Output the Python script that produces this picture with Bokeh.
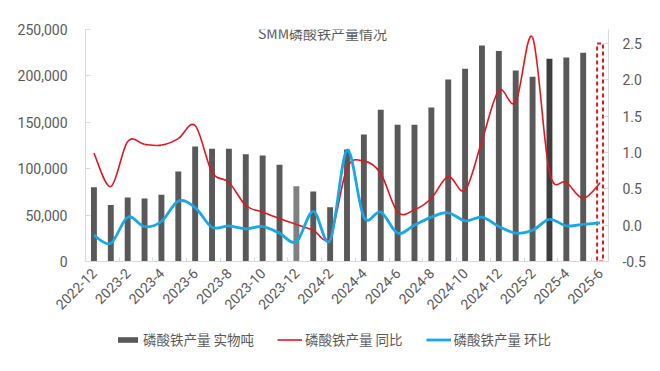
import math
from bokeh.plotting import figure
from bokeh.layouts import column
from bokeh.models import (Range1d, LinearAxis, FixedTicker, NumeralTickFormatter,
                          Legend, LegendItem, Label, ColumnDataSource)
from bokeh.embed import file_html
from bokeh.resources import INLINE

# ---------------- data ----------------
months = ["2022-12",
          "2023-1", "2023-2", "2023-3", "2023-4", "2023-5", "2023-6",
          "2023-7", "2023-8", "2023-9", "2023-10", "2023-11", "2023-12",
          "2024-1", "2024-2", "2024-3", "2024-4", "2024-5", "2024-6",
          "2024-7", "2024-8", "2024-9", "2024-10", "2024-11", "2024-12",
          "2025-1", "2025-2", "2025-3", "2025-4", "2025-5", "2025-6"]

production = [80000, 61000, 69000, 68000, 72000, 97000, 124000,
              121500, 121500, 115700, 114300, 104200, 81200,
              75500, 58500, 120700, 136900, 163500, 147400,
              147400, 166000, 196200, 207700, 232800, 226700,
              205900, 199100, 218500, 219900, 225000, 235000]

yoy = [0.99, 0.53, 1.15, 1.11, 1.10, 1.19, 1.37,
       0.73, 0.59, 0.27, 0.18, 0.09, 0.01,
       -0.07, -0.16, 0.78, 0.88, 0.71, 0.18,
       0.21, 0.37, 0.67, 0.48, 1.16, 1.85,
       1.69, 2.58, 0.73, 0.59, 0.37, 0.58]

mom = [-0.14, -0.25, 0.11, -0.02, 0.05, 0.33, 0.24,
       -0.03, -0.01, -0.05, -0.02, -0.11, -0.23,
       0.19, -0.21, 1.03, 0.11, 0.18, -0.11,
       0.00, 0.11, 0.17, 0.06, 0.11, -0.02,
       -0.11, -0.07, 0.08, -0.01, 0.01, 0.03]

left_ticks = [0, 50000, 100000, 150000, 200000, 250000]
right_ticks = [-0.5, 0.0, 0.5, 1.0, 1.5, 2.0, 2.5]

title_text = "SMM磷酸铁产量情况"
label_bar = "磷酸铁产量 实物吨"
label_yoy = "磷酸铁产量 同比"
label_mom = "磷酸铁产量 环比"

# ---------------- styles ----------------
GRAY = "#595959"
AXIS = "#d9d9d9"
RED = "#e3151d"
BLUE = "#18a8e6"
CJK = "Noto Sans CJK SC"
NUM = "Roboto"
NAN = float("nan")

n = len(months)
xs = list(range(n))

bar_colors = [GRAY] * n
bar_colors[months.index("2023-12")] = "#808080"
bar_colors[months.index("2025-3")] = "#3d3d3d"

p = figure(frame_width=523, frame_height=232,
           min_border_left=85, min_border_right=44, min_border_top=29,
           min_border_bottom=59,
           x_range=Range1d(-0.5, n - 0.5), y_range=Range1d(0, 250000),
           output_backend="svg", toolbar_location=None,
           background_fill_color="white", border_fill_color="white")
p.outline_line_color = None
p.xgrid.visible = False
p.ygrid.visible = False
p.extra_y_ranges = {"right": Range1d(-0.5, 2.69)}

# bars (all but the last, forecast bar)
solid = ColumnDataSource(dict(x=xs[:-1], top=production[:-1], color=bar_colors[:-1]))
p.vbar(x="x", top="top", width=0.35, source=solid,
       fill_color="color", line_color=None)
# last month drawn as dashed outline
last = ColumnDataSource(dict(x=xs[-1:], top=production[-1:]))
p.vbar(x="x", top="top", width=0.35, source=last, fill_color=None,
       line_color=RED, line_dash="4 3", line_width=2)


def bezier_source(xv, yv):
    m = len(xv)
    d = dict(x0=[], y0=[], x1=[], y1=[], cx0=[], cy0=[], cx1=[], cy1=[])
    for i in range(m - 1):
        a = max(i - 1, 0)
        b = min(i + 2, m - 1)
        d["x0"].append(xv[i]); d["y0"].append(yv[i])
        d["x1"].append(xv[i + 1]); d["y1"].append(yv[i + 1])
        d["cx0"].append(xv[i] + (xv[i + 1] - xv[a]) / 6)
        d["cy0"].append(yv[i] + (yv[i + 1] - yv[a]) / 6)
        d["cx1"].append(xv[i + 1] - (xv[b] - xv[i]) / 6)
        d["cy1"].append(yv[i + 1] - (yv[b] - yv[i]) / 6)
    return ColumnDataSource(d)


p.bezier(x0="x0", y0="y0", x1="x1", y1="y1", cx0="cx0", cy0="cy0",
         cx1="cx1", cy1="cy1", source=bezier_source(xs, yoy),
         line_color=RED, line_width=1.6, y_range_name="right")
p.bezier(x0="x0", y0="y0", x1="x1", y1="y1", cx0="cx0", cy0="cy0",
         cx1="cx1", cy1="cy1", source=bezier_source(xs, mom),
         line_color=BLUE, line_width=2.8, y_range_name="right")

# axes
xa = p.xaxis[0]
xa.ticker = FixedTicker(ticks=list(range(0, n, 2)),
                        minor_ticks=[i + 0.5 for i in range(1, n - 1, 2)])
xa.major_label_overrides = {i: months[i] for i in range(0, n, 2)}
xa.major_label_orientation = math.pi / 4
xa.major_tick_in = 0
xa.major_tick_out = 0
xa.minor_tick_in = 4
xa.minor_tick_out = 0
xa.minor_tick_line_color = AXIS
xa.axis_line_color = AXIS
xa.major_label_text_font = NUM
xa.major_label_text_font_size = "14px"
xa.major_label_text_color = GRAY
xa.major_label_standoff = 9

ya = p.yaxis[0]
ya.ticker = FixedTicker(ticks=left_ticks)
ya.formatter = NumeralTickFormatter(format="0,0")
ya.major_tick_in = 5
ya.major_tick_out = 0
ya.minor_tick_line_color = None
ya.major_tick_line_color = AXIS
ya.axis_line_color = AXIS
ya.major_label_text_font = NUM
ya.major_label_text_font_size = "14px"
ya.major_label_text_color = GRAY
ya.major_label_standoff = 18

ra = LinearAxis(y_range_name="right", ticker=FixedTicker(ticks=right_ticks),
                formatter=NumeralTickFormatter(format="0.0"))
ra.major_tick_in = 5
ra.major_tick_out = 0
ra.minor_tick_line_color = None
ra.major_tick_line_color = AXIS
ra.axis_line_color = AXIS
ra.major_label_text_font = NUM
ra.major_label_text_font_size = "14px"
ra.major_label_text_color = GRAY
ra.major_label_standoff = 14
p.add_layout(ra, "right")

# title inside plot area
p.add_layout(Label(x=13.55, y=245800, text=title_text, text_align="center",
                   text_baseline="middle", text_font=CJK, text_font_size="14px",
                   text_color=GRAY))

# ---------------- legend strip (separate figure below) ----------------
lg = figure(width=652, height=51, min_border=0,
            x_range=Range1d(0, 1), y_range=Range1d(0, 1),
            x_axis_location=None, y_axis_location=None,
            output_backend="svg", toolbar_location=None,
            background_fill_color="white", border_fill_color="white")
lg.outline_line_color = None
lg.xgrid.visible = False
lg.ygrid.visible = False
# legend keys only: one NaN row each, so nothing is drawn in the strip itself
key_bar = lg.vbar(x=[NAN], top=[NAN], width=0.35, fill_color=GRAY, line_color=None)
key_yoy = lg.line(x=[NAN], y=[NAN], line_color=RED, line_width=1.6)
key_mom = lg.line(x=[NAN], y=[NAN], line_color=BLUE, line_width=2.8)

legend = Legend(items=[LegendItem(label=label_bar, renderers=[key_bar]),
                       LegendItem(label=label_yoy, renderers=[key_yoy]),
                       LegendItem(label=label_mom, renderers=[key_mom])],
                orientation="horizontal", location=(30, 22),
                border_line_color=None, background_fill_alpha=0,
                label_text_font=CJK, label_text_font_size="13.5px",
                label_text_color=GRAY, glyph_width=25, glyph_height=7,
                label_height=14, label_standoff=3, spacing=23,
                padding=0, margin=0)
lg.add_layout(legend, "center")

layout = column(p, lg, spacing=0)
open("out.html", "w").write(file_html(layout, INLINE))
